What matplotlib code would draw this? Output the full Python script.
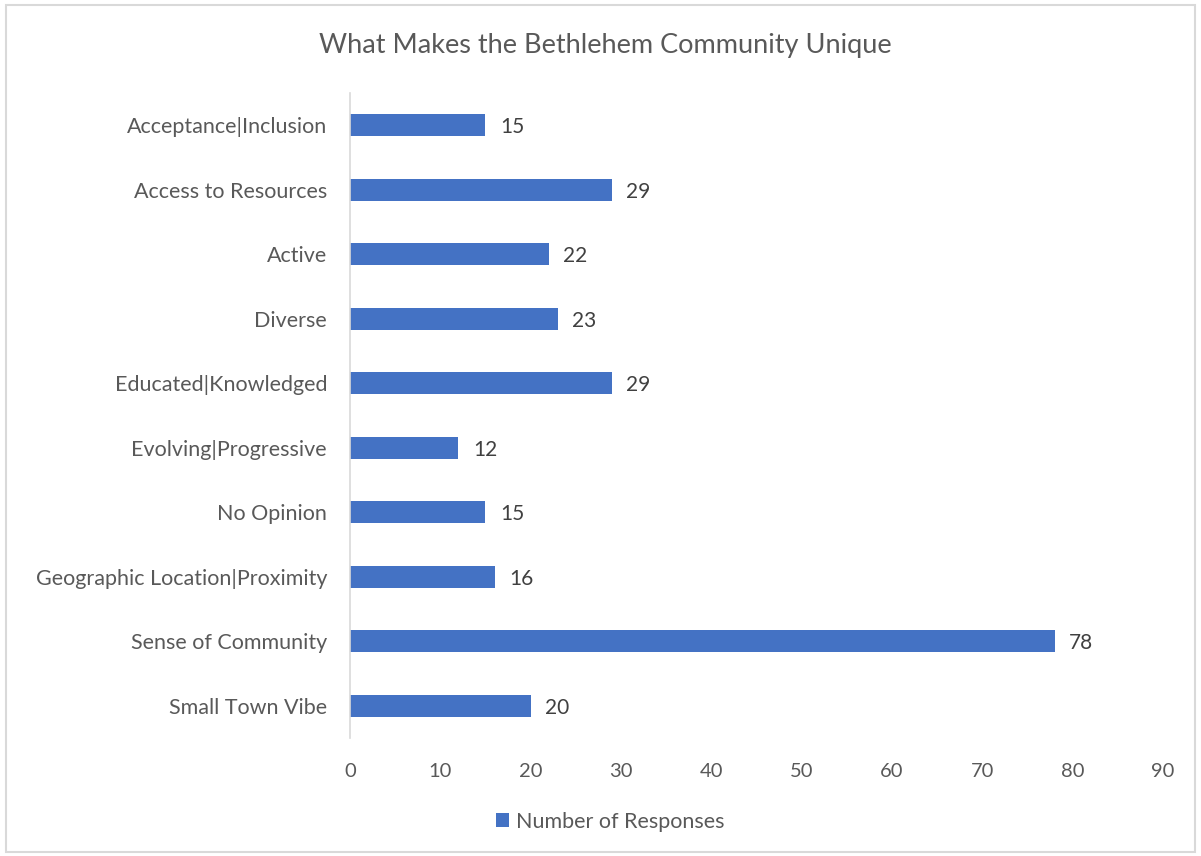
import matplotlib.pyplot as plt
from matplotlib.patches import Rectangle

categories = ["Acceptance|Inclusion", "Access to Resources", "Active", "Diverse",
              "Educated|Knowledged", "Evolving|Progressive", "No Opinion",
              "Geographic Location|Proximity", "Sense of Community", "Small Town Vibe"]
responses = [15, 29, 22, 23, 29, 12, 15, 16, 78, 20]
x_ticks = [0, 10, 20, 30, 40, 50, 60, 70, 80, 90]

bar_color = "#4472C4"
text_color = "#595959"
plt.rcParams["font.family"] = ["Lato", "DejaVu Sans"]

fig = plt.figure(figsize=(12.01, 8.56), dpi=100)
ax = fig.add_axes([0.2914, 0.1379, 0.677, 0.7535])

ypos = list(range(len(categories)))
bars = ax.barh(ypos, responses, height=0.34, color=bar_color, label="Number of Responses")

for y, v in zip(ypos, responses):
    ax.text(v + 1.6, y + 0.03, str(v), va="center", ha="left", fontsize=15, color="#404040")

ax.set_xlim(0, 90)
ax.set_ylim(len(categories) - 0.5, -0.5)
ax.set_yticks(ypos)
ax.set_yticklabels(categories, fontsize=15.5, color=text_color)
ax.set_xticks(x_ticks)
ax.set_xticklabels([str(t) for t in x_ticks], fontsize=14.5, color=text_color)
ax.tick_params(length=0)
ax.tick_params(axis="y", pad=16.5)
ax.tick_params(axis="x", pad=18)

for s in ["top", "right", "bottom"]:
    ax.spines[s].set_visible(False)
ax.spines["left"].set_color("#d9d9d9")
ax.spines["left"].set_linewidth(1.2)

fig.text(0.504, 0.947, "What Makes the Bethlehem Community Unique", ha="center", va="center",
         fontsize=19.5, color=text_color)

leg = fig.legend(handles=[bars], labels=["Number of Responses"], loc="center",
                 bbox_to_anchor=(0.508, 0.04), frameon=False, fontsize=15.5,
                 handlelength=0.6, handleheight=0.6, handletextpad=0.3)
for t in leg.get_texts():
    t.set_color(text_color)

fig.patches.append(Rectangle((0.005, 0.005), 0.99, 0.989, transform=fig.transFigure,
                             fill=False, edgecolor="#d9d9d9", linewidth=1.5))

fig.savefig("out.png", dpi=100)
